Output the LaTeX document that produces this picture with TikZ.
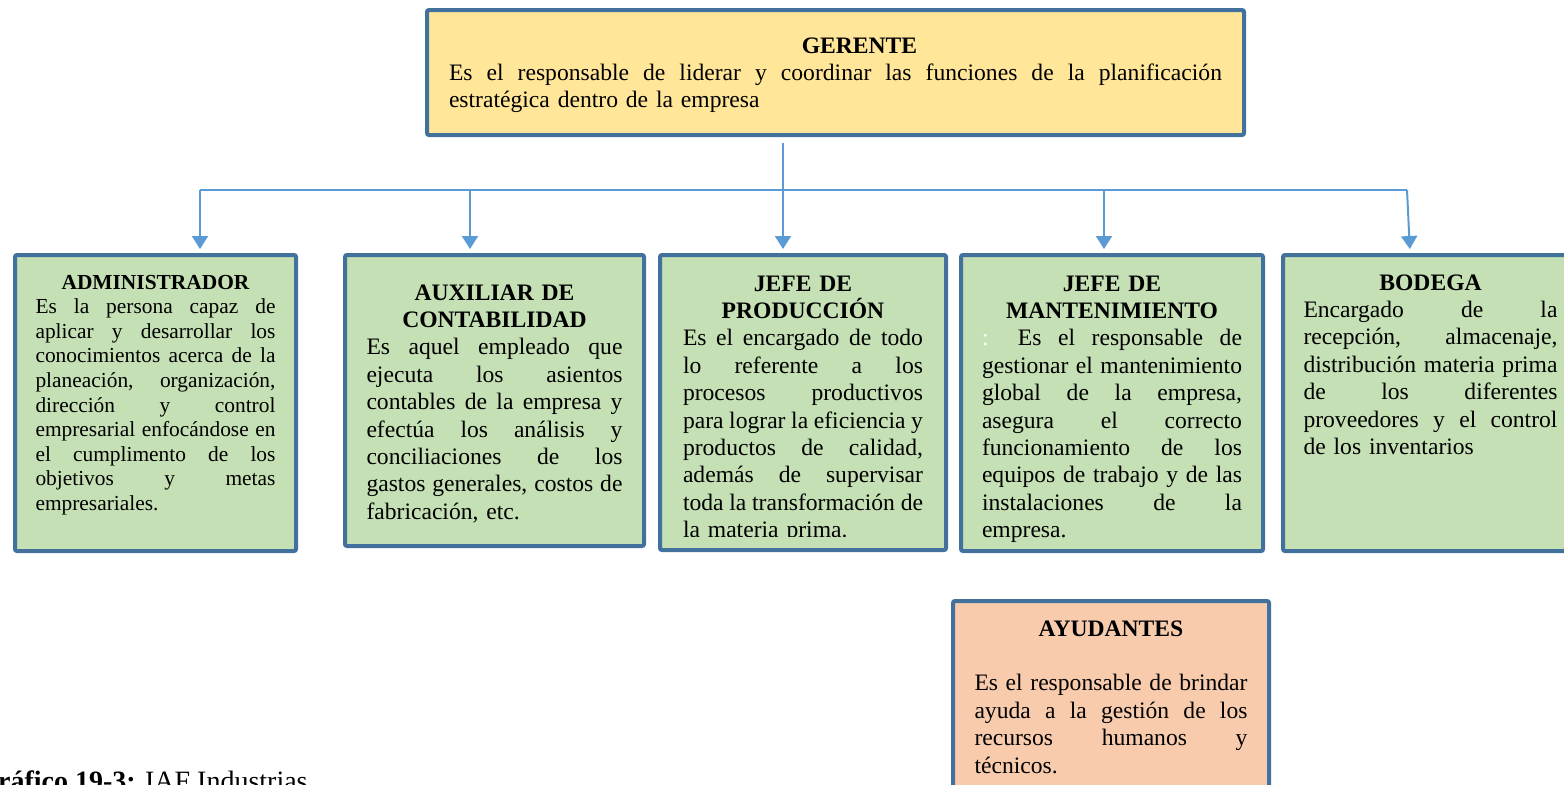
\documentclass[tikz,border=0pt]{standalone}
\usepackage{fontspec}
\setmainfont{Liberation Serif}
\usepackage{tikz}
\usetikzlibrary{arrows.meta}
\definecolor{orgedge}{HTML}{41719C}
\definecolor{orggreen}{HTML}{C5E0B4}
\definecolor{orgyellow}{HTML}{FFE699}
\definecolor{orgsalmon}{HTML}{F8CBAD}
\definecolor{orgarrow}{HTML}{5B9BD5}
\tikzset{
  cargobox/.style={draw=orgedge,line width=2pt,fill=orggreen,rounded corners=1pt,inner sep=0pt},
  cargotxt/.style={inner sep=0pt,anchor=base,align=left,text=black,
                   font=\fontsize{11.8}{13.7}\selectfont},
  smalltxt/.style={cargotxt,font=\fontsize{10.7}{12.3}\selectfont},
  bar/.style={draw=orgarrow,line width=1pt},
  arr/.style={-{Triangle[length=6.5pt,width=8pt]},draw=orgarrow,line width=1pt,shorten >=2pt},
}
\newcommand{\cargo}[1]{\makebox[\hsize]{\bfseries #1}\\}
\newcommand{\linea}[1]{\makebox[\hsize][s]{\spaceskip=0pt\xspaceskip=0pt #1}\\}

\begin{document}
\begin{tikzpicture}[x=0.5pt,y=-0.5pt]
  \useasboundingbox (0,0) rectangle (1564,784);
  \clip (0,0) rectangle (1564,784);

  % ================= boxes =================
  \node[cargobox,fill=orgyellow,minimum width=408.5pt,minimum height=62.5pt] (ger) at (835.5,72.5) {};
  \node[cargobox,minimum width=140.5pt,minimum height=148pt] (adm)  at (155.5,403) {};
  \node[cargobox,minimum width=149.5pt,minimum height=145.5pt] (aux) at (494.5,400.5) {};
  \node[cargobox,minimum width=143pt,minimum height=147.5pt] (prod)  at (803,402.5) {};
  \node[cargobox,minimum width=151pt,minimum height=148pt] (mant)    at (1112,403) {};
  \node[cargobox,minimum width=147.5pt,minimum height=148pt] (bod)   at (1430.5,403) {};
  \node[cargobox,fill=orgsalmon,minimum width=158pt,minimum height=101pt] (ayu) at (1111,702) {};

  % ================= texts =================
  \node[cargotxt,text width=386.5pt] (ger-t) at (835.5,53)
    {\makebox[\hsize]{\hspace*{24pt}\bfseries GERENTE}\\
     \linea{Es el responsable de liderar y coordinar las funciones de la planificación}
     estratégica dentro de la empresa};
  \node[smalltxt,text width=120pt] (adm-t) at (155.5,289)
    {\cargo{ADMINISTRADOR}
     \linea{Es la persona capaz de}
     \linea{aplicar y desarrollar los}
     \linea{conocimientos acerca de la}
     \linea{planeación, organización,}
     \linea{dirección y control}
     \linea{empresarial enfocándose en}
     \linea{el cumplimento de los}
     \linea{objetivos y metas}
     empresariales.};
  \node[cargotxt,text width=128pt] (aux-t) at (494.5,300)
    {\cargo{AUXILIAR DE}
     \cargo{CONTABILIDAD}
     \linea{Es aquel empleado que}
     \linea{ejecuta los asientos}
     \linea{contables de la empresa y}
     \linea{efectúa los análisis y}
     \linea{conciliaciones de los}
     \linea{gastos generales, costos de}
     fabricación, etc.};
  \begin{scope}
    \clip (658,253) rectangle (948,536);
    \node[cargotxt,text width=120pt] (prod-t) at (803,291)
      {\cargo{JEFE DE}
       \cargo{PRODUCCIÓN}
       \linea{Es el encargado de todo}
       \linea{lo referente a los}
       \linea{procesos productivos}
       \linea{para lograr la eficiencia y}
       \linea{productos de calidad,}
       \linea{además de supervisar}
       \linea{toda la transformación de}
       la materia prima.};
  \end{scope}
  \node[cargotxt,text width=130pt] (mant-t) at (1112,291)
    {\cargo{JEFE DE}
     \cargo{MANTENIMIENTO}
     \linea{{\color{white}:} Es el responsable de}
     \linea{gestionar el mantenimiento}
     \linea{global de la empresa,}
     \linea{asegura el correcto}
     \linea{funcionamiento de los}
     \linea{equipos de trabajo y de las}
     \linea{instalaciones de la}
     empresa.};
  \node[cargotxt,text width=127pt] (bod-t) at (1430.5,290)
    {\cargo{BODEGA}
     \linea{Encargado de la}
     \linea{recepción, almacenaje,}
     \linea{distribución materia prima}
     \linea{de los diferentes}
     \linea{proveedores y el control}
     de los inventarios};
  \node[cargotxt,text width=136.5pt] (ayu-t) at (1111,636)
    {\cargo{AYUDANTES}
     \mbox{}\\
     \linea{Es el responsable de brindar}
     \linea{ayuda a la gestión de los}
     \linea{recursos humanos y}
     técnicos.};

  % ================= connectors =================
  \coordinate (g0) at (783,143);
  \coordinate (b1) at (200,190);
  \coordinate (b2) at (470,190);
  \coordinate (b4) at (1104,190);
  \coordinate (b5) at (1407,190);
  \draw[bar] (b1) -- (b5);
  \draw[arr] (g0) -- (g0 |- prod.north);
  \foreach \b/\n in {b1/adm,b2/aux,b4/mant}
    \draw[arr] (\b) -- (\b |- \n.north);
  \draw[arr] (b5) -- ([xshift=1.5pt]b5 |- bod.north);

  % caption
  \node[anchor=base west,inner sep=0pt,font=\fontsize{14}{16}\selectfont] (cap) at (-24,790)
    {\textbf{Gráfico 19-3:} IAF Industrias};
\end{tikzpicture}
\end{document}
